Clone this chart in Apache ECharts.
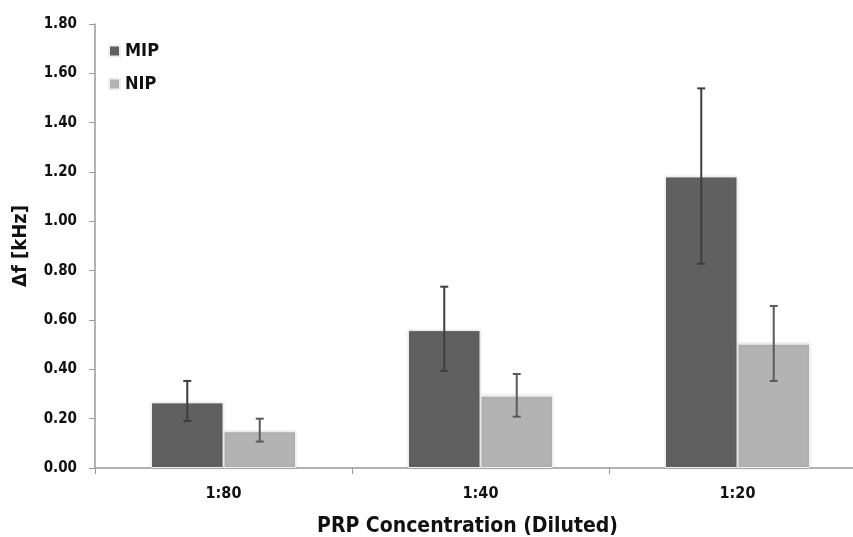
<!DOCTYPE html>
<html><head><meta charset="utf-8">
<script src="https://cdn.jsdelivr.net/npm/echarts@6/dist/echarts.min.js"></script>
<style>html,body{margin:0;padding:0;background:#fff}#c{width:853px;height:537px}</style>
</head><body><div id="c"></div>
<script>
const categories = ['1:80', '1:40', '1:20'];
const mipValues = [0.266, 0.559, 1.182];
const mipErrLow = [0.190, 0.394, 0.828];
const mipErrHigh = [0.353, 0.735, 1.539];
const nipValues = [0.149, 0.293, 0.504];
const nipErrLow = [0.107, 0.208, 0.353];
const nipErrHigh = [0.200, 0.381, 0.657];
const yTicks = [0, 0.2, 0.4, 0.6, 0.8, 1.0, 1.2, 1.4, 1.6, 1.8];

const FONT = '"DejaVu Sans Condensed", "Liberation Sans Narrow", "Open Sans", sans-serif';
const chart = echarts.init(document.getElementById('c'));

function errSeries(name, low, high, offsetIdx, color) {
  return {
    type: 'custom',
    name: name + ' err',
    z: 10,
    silent: true,
    data: categories.map((c, i) => [i, low[i], high[i]]),
    renderItem: function (params, api) {
      const i = api.value(0);
      const lo = api.coord([i, api.value(1)]);
      const hi = api.coord([i, api.value(2)]);
      const bw = api.size([1, 0])[0];
      const barW = bw * 0.282;
      const x = lo[0] + (offsetIdx === 0 ? -barW / 2 : barW / 2);
      const cap = 4;
      const st = { stroke: color, lineWidth: 2 };
      return {
        type: 'group',
        children: [
          { type: 'line', shape: { x1: x, y1: hi[1], x2: x, y2: lo[1] }, style: st },
          { type: 'line', shape: { x1: x - cap, y1: hi[1], x2: x + cap, y2: hi[1] }, style: st },
          { type: 'line', shape: { x1: x - cap, y1: lo[1], x2: x + cap, y2: lo[1] }, style: st }
        ]
      };
    }
  };
}

chart.setOption({
  animation: false,
  backgroundColor: '#fff',
  grid: { left: 95, width: 771, top: 24, height: 444, containLabel: false, outerBoundsMode: 'none' },
  legend: {
    orient: 'vertical',
    left: 103,
    top: 37,
    icon: 'rect',
    itemWidth: 11,
    itemHeight: 11,
    itemGap: 15,
    data: ['MIP', 'NIP'],
    textStyle: { fontFamily: FONT, fontWeight: 'bold', fontSize: 18, color: '#111' }
  },
  xAxis: {
    type: 'category',
    data: categories,
    name: 'PRP Concentration (Diluted)',
    nameLocation: 'middle',
    nameGap: 48,
    nameTextStyle: { fontFamily: FONT, fontWeight: 'bold', fontSize: 21, color: '#111', padding: [0, 0, 0, -26] },
    axisLine: { lineStyle: { color: '#999', width: 1.5 } },
    axisTick: { show: true, length: 6, lineStyle: { color: '#999' } },
    axisLabel: { fontFamily: FONT, fontWeight: 'bold', fontSize: 16, color: '#111', margin: 18 }
  },
  yAxis: {
    type: 'value',
    min: 0, max: 1.8, interval: 0.2,
    name: 'Δf [kHz]',
    nameLocation: 'middle',
    nameGap: 64,
    nameTextStyle: { fontFamily: FONT, fontWeight: 'bold', fontSize: 20, color: '#111' },
    splitLine: { show: false },
    axisLine: { show: true, lineStyle: { color: '#999', width: 1.5 } },
    axisTick: { show: true, length: 6, lineStyle: { color: '#999' } },
    axisLabel: { fontFamily: FONT, fontWeight: 'bold', fontSize: 15, color: '#111', margin: 18,
      formatter: v => v.toFixed(2) }
  },
  series: [
    { name: 'MIP', type: 'bar', data: mipValues, barGap: '0%', barCategoryGap: '43.6%',
      itemStyle: { color: '#606060', borderColor: '#f0f0f0', borderWidth: 1,
        shadowColor: 'rgba(0,0,0,0.15)', shadowBlur: 3 } },
    { name: 'NIP', type: 'bar', data: nipValues,
      itemStyle: { color: '#b3b3b3', borderColor: '#f0f0f0', borderWidth: 1,
        shadowColor: 'rgba(0,0,0,0.15)', shadowBlur: 3 } },
    errSeries('MIP', mipErrLow, mipErrHigh, 0, '#3e3e3e'),
    errSeries('NIP', nipErrLow, nipErrHigh, 1, '#5a5a5a')
  ]
});
</script></body></html>
